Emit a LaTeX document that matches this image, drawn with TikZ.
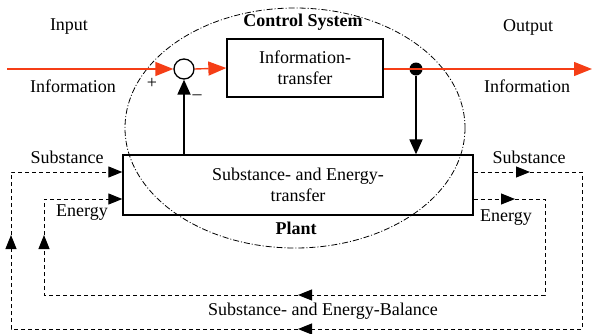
\documentclass[tikz,border=0pt]{standalone}
\usepackage{fontspec}
\setmainfont{Liberation Serif}
\usetikzlibrary{arrows.meta}
\definecolor{infored}{RGB}{245,62,22}
\tikzset{
  txt/.style={font=\fontsize{18}{21}\selectfont, inner sep=0pt, align=center},
  btxt/.style={txt, font=\fontsize{18}{21}\selectfont\bfseries},
  blockbox/.style={draw, line width=1.3pt, txt},
  redflow/.style={draw=infored, line width=1.4pt, -{Triangle[length=18pt,width=14pt]}, infored},
  sigflow/.style={draw, line width=1.8pt, -{Triangle[length=15pt,width=13pt]}},
  massflow/.style={draw, line width=1pt, dash pattern=on 4pt off 3pt, -{Triangle[length=14pt,width=11pt]}}
}
\begin{document}
\begin{tikzpicture}[x=1pt,y=-1pt]
\def\yinf{69}
\def\ysub{172}
\def\yen{199}
\useasboundingbox (0,0) rectangle (592,333);

\draw [line width=0.8pt, dash pattern=on 6pt off 2pt on 1pt off 2pt] (295,128) ellipse [x radius=170, y radius=120];

\node[blockbox, minimum width=156pt, minimum height=58pt] (info) at (305,68) {Information-\\transfer};
\node[blockbox, minimum width=350pt, minimum height=60pt] (plant) at (298,185) {Substance- and Energy-\\transfer};
\node[draw, circle, line width=1.3pt, minimum size=20pt, inner sep=0pt] (sum) at (184,\yinf) {};
\node[circle, fill, minimum size=13pt, inner sep=0pt] (split) at (416,\yinf) {};

\node[txt] (input) at (69,27) {Input};
\node[txt] (output) at (528,27) {Output};
\node[btxt] (ctrl) at (303,22) {Control System};
\node[btxt] (plnt) at (296,228) {Plant};
\node[txt] (infoin) at (73,86) {Information};
\node[txt] (infoout) at (527,86) {Information};
\node[txt] (plus) at (152,83) {+};
\node[txt] (minus) at (197,97) {–};
\node[txt] (subin) at (67,157) {Substance};
\node[txt] (enin) at (82,213) {Energy};
\node[txt] (subout) at (529,157) {Substance};
\node[txt] (enout) at (506,218) {Energy};
\node[txt] (bal) at (323,311) {Substance- and Energy-Balance};

% corners of the balance loops
\coordinate (inL) at (7,\yinf);
\coordinate (outR) at (592,\yinf);
\coordinate (s1) at (530,\ysub);
\coordinate (s2) at (582,\ysub);
\coordinate (s3) at (582,329);
\coordinate (s4) at (298,329);
\coordinate (s5) at (11,329);
\coordinate (s6) at (11,235);
\coordinate (s7) at (11,\ysub);
\coordinate (e1) at (515,\yen);
\coordinate (e2) at (545,\yen);
\coordinate (e3) at (545,295);
\coordinate (e4) at (298,295);
\coordinate (e5) at (44,295);
\coordinate (e6) at (44,235);
\coordinate (e7) at (44,\yen);

% information
\draw[redflow] (inL) -- (sum.west);
\draw[redflow] (sum.east) -- (info.west);
\draw[redflow] (info.east |- split) -- (outR);
\draw[sigflow] (split) -- (split |- plant.north);
\draw[sigflow] (sum.south |- plant.north) -- (sum.south);

% substance
\draw[massflow] (plant.east |- s1) -- (s1);
\draw[massflow] (s1) -- (s2) -- (s3) -- (s4);
\draw[massflow] (s4) -- (s5) -- (s6);
\draw[massflow] (s6) -- (s7) -- (plant.west |- s7);

% energy
\draw[massflow] (plant.east |- e1) -- (e1);
\draw[massflow] (e1) -- (e2) -- (e3) -- (e4);
\draw[massflow] (e4) -- (e5) -- (e6);
\draw[massflow] (e6) -- (e7) -- (plant.west |- e7);
\end{tikzpicture}
\end{document}
